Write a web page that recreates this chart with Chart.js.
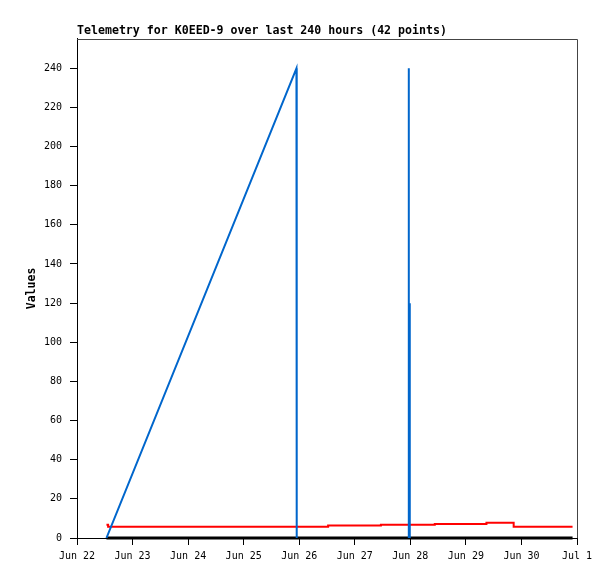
<!DOCTYPE html>
<html>
<head>
<meta charset="utf-8">
<script src="https://cdn.jsdelivr.net/npm/chart.js@4"></script>
<style>
  html, body { margin: 0; padding: 0; background: #fff; }
  #wrap { width: 615px; height: 579px; }
</style>
</head>
<body>
<div id="wrap"><canvas id="plotCanvas" width="615" height="579"></canvas></div>
<script>
// days since Jun 22 00:00
const DAY_LABELS = ['Jun 22', 'Jun 23', 'Jun 24', 'Jun 25', 'Jun 26', 'Jun 27', 'Jun 28', 'Jun 29', 'Jun 30', 'Jul 1'];
const Y_TICKS = [0, 20, 40, 60, 80, 100, 120, 140, 160, 180, 200, 220, 240];

// null = gap (values sit at 0 under the black line there)
const blueX = [0.53, 3.95, 3.955, 4.9, 5.965, 5.97, 5.975, 5.985, 5.99];
const blueY = [0, 240, 0, null, 0, 240, 0, 120, 0];

const redX = [0.53, 0.56, 4.52, 5.47, 6.44, 7.37, 7.86, 8.92];
const redY = [6.8, 5.8, 6.4, 6.8, 7.2, 7.8, 5.8, 5.8];

const blackX = [0.53, 8.92];
const blackY = [0, 0];

const toPts = (xs, ys) => xs.map((x, i) => ({ x: x, y: ys[i] }));

const FONT = '"DejaVu Sans Mono", "Liberation Mono", monospace';

const framePlugin = {
    id: 'frame',
    afterDraw(c) {
        const a = c.chartArea;
        const ctx = c.ctx;
        ctx.save();
        ctx.strokeStyle = '#444';
        ctx.lineWidth = 1;
        ctx.beginPath();
        ctx.moveTo(a.left, Math.round(a.top) + 0.5);
        ctx.lineTo(Math.round(a.right) + 0.5, Math.round(a.top) + 0.5);
        ctx.lineTo(Math.round(a.right) + 0.5, a.bottom);
        ctx.stroke();
        ctx.restore();
    }
};

let chart;

document.addEventListener('DOMContentLoaded', () => {
    const ctx = document.getElementById('plotCanvas').getContext('2d');
    chart = new Chart(ctx, {
        type: 'line',
        data: {
            datasets: [
                { data: toPts(blueX, blueY), borderColor: '#0066cc', borderWidth: 2, pointRadius: 0, order: 0, spanGaps: false },
                { data: toPts(blackX, blackY), borderColor: '#000000', borderWidth: 3, pointRadius: 0, order: 1, clip: false },
                { data: toPts(redX, redY), borderColor: '#ff0000', borderWidth: 2, pointRadius: 0, stepped: 'before', order: 2 }
            ]
        },
        options: {
            responsive: false,
            animation: false,
            layout: { padding: { left: 0, right: 38, top: 0, bottom: 0 } },
            plugins: {
                legend: { display: false },
                tooltip: { enabled: false },
                title: {
                    display: true,
                    text: 'Telemetry for K0EED-9 over last 240 hours (42 points)',
                    align: 'start',
                    fullSize: false,
                    color: '#000',
                    font: { family: FONT, size: 11.6, weight: 'bold' },
                    padding: { top: 24, bottom: 1 }
                }
            },
            scales: {
                x: {
                    type: 'linear',
                    min: 0,
                    max: 9,
                    afterFit: s => { s.height = 41; },
                    border: { color: '#000', width: 1 },
                    grid: { drawOnChartArea: false, drawTicks: true, tickLength: 7, color: '#000' },
                    ticks: {
                        stepSize: 1,
                        color: '#000',
                        padding: 5,
                        maxRotation: 0,
                        autoSkip: false,
                        font: { family: FONT, size: 10 },
                        callback: v => DAY_LABELS[v]
                    }
                },
                y: {
                    min: 0,
                    max: 255,
                    afterFit: s => { s.width = 77; },
                    afterBuildTicks: s => { s.ticks = Y_TICKS.map(v => ({ value: v })); },
                    border: { color: '#000', width: 1 },
                    grid: { drawOnChartArea: false, drawTicks: true, tickLength: 7, color: '#000' },
                    title: {
                        display: true,
                        text: 'Values',
                        color: '#000',
                        font: { family: FONT, size: 11.5, weight: 'bold' },
                        padding: { top: 25, bottom: 0 }
                    },
                    ticks: {
                        color: '#000',
                        padding: 8,
                        font: { family: FONT, size: 10 }
                    }
                }
            }
        },
        plugins: [framePlugin]
    });
});
</script>
</body>
</html>
